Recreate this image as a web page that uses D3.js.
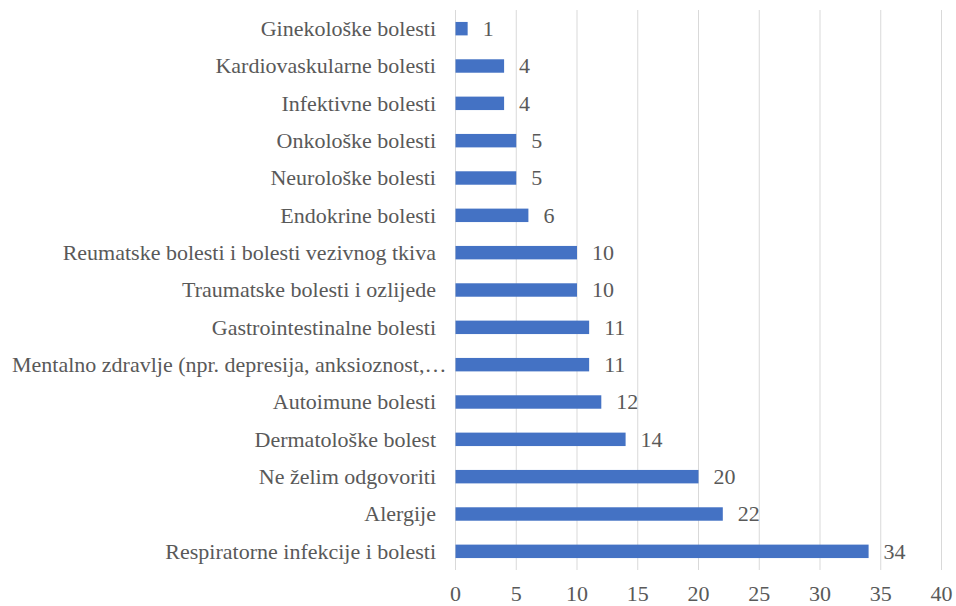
<!DOCTYPE html>
<html>
<head>
<meta charset="utf-8">
<script src="https://cdn.jsdelivr.net/npm/d3@7"></script>
<style>
  body { margin: 0; background: #fff; }
</style>
</head>
<body>
<div id="chart"></div>
<script>
// data, top to bottom as in the picture
var categories = [
  "Ginekološke bolesti",
  "Kardiovaskularne bolesti",
  "Infektivne bolesti",
  "Onkološke bolesti",
  "Neurološke bolesti",
  "Endokrine bolesti",
  "Reumatske bolesti i bolesti vezivnog tkiva",
  "Traumatske bolesti i ozlijede",
  "Gastrointestinalne bolesti",
  "Mentalno zdravlje (npr. depresija, anksioznost,…",
  "Autoimune bolesti",
  "Dermatološke bolest",
  "Ne želim odgovoriti",
  "Alergije",
  "Respiratorne infekcije i bolesti"
];
var values = [1, 4, 4, 5, 5, 6, 10, 10, 11, 11, 12, 14, 20, 22, 34];
var xTicks = [0, 5, 10, 15, 20, 25, 30, 35, 40];

var width = 956
var height = 606

var svg = d3.select("#chart")
  .append("svg")
    .attr("width", width)
    .attr("height", height);

var x = d3.scaleLinear()
    .domain([0, 40])
    .range([455.5, 941.5]);

var y = d3.scaleBand()
    .domain(categories)
    .range([10, 570])
    .paddingInner(0.64)
    .paddingOuter(0.32);

// vertical gridlines
svg.selectAll(".grid")
  .data(xTicks)
  .enter().append("line")
    .attr("x1", d => x(d))
    .attr("x2", d => x(d))
    .attr("y1", 10)
    .attr("y2", 570)
    .attr("stroke", "#d9d9d9")
    .attr("stroke-width", 1);

// all the texts share the same look
function label(sel) {
  return sel.append("text")
    .attr("font-family", "Liberation Serif")
    .attr("font-size", 22)
    .attr("fill", "#595959");
}

// x tick labels
xTicks.forEach(function(t) {
  label(svg)
    .attr("x", x(t))
    .attr("y", 601)
    .attr("text-anchor", "middle")
    .text(t);
});

// bars
svg.selectAll(".bar")
  .data(values)
  .enter().append("rect")
    .attr("x", x(0))
    .attr("y", (d, i) => y(categories[i]))
    .attr("width", d => x(d) - x(0))
    .attr("height", y.bandwidth())
    .attr("fill", "#4472c4");

// value labels
values.forEach(function(v, i) {
  label(svg)
    .attr("x", x(v) + 15)
    .attr("y", y(categories[i]) + y.bandwidth() / 2)
    .attr("dy", "0.33em")
    .text(v);
});

// category labels
categories.forEach(function(c) {
  var t = label(svg)
    .attr("x", 436)
    .attr("y", y(c) + y.bandwidth() / 2)
    .attr("dy", "0.33em")
    .attr("text-anchor", "end")
    .text(c);
  // long labels start at the left edge instead
  if (t.node().getBBox().x < 12) {
    t.attr("text-anchor", "start").attr("x", 12);
  }
});
</script>
</body>
</html>
